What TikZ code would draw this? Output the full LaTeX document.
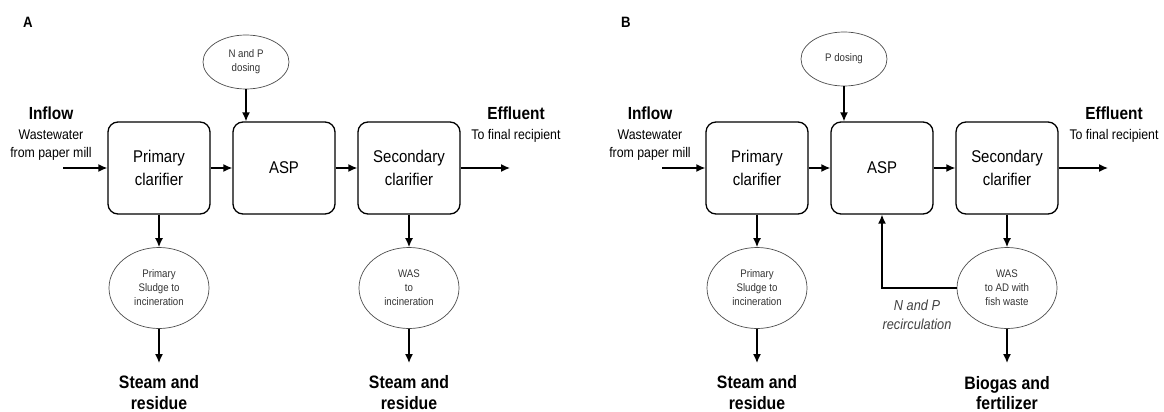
\documentclass[tikz,border=0pt]{standalone}
\usepackage{fontspec}
\setmainfont[FakeStretch=0.88]{Liberation Sans}
\usetikzlibrary{arrows.meta,shapes.geometric}
\begin{document}
\begin{tikzpicture}[x=1pt,y=-1pt,
  procbox/.style={draw,line width=1.3pt,rounded corners=10pt,minimum width=102pt,minimum height=92pt,inner sep=0pt,align=center,font=\fontsize{17}{23}\selectfont},
  smallell/.style={draw=black!70,line width=0.7pt,ellipse,minimum width=100pt,minimum height=81pt,inner sep=0pt,align=center,text=black!80,font=\fontsize{11}{14}\selectfont},
  doseell/.style={draw=black!70,line width=0.7pt,ellipse,minimum width=86pt,minimum height=54pt,inner sep=0pt,align=center,text=black!80,font=\fontsize{11}{14}\selectfont},
  arr/.style={line width=1.4pt,-{Latex[length=9pt,width=8pt]}},
  bigtxt/.style={anchor=base,inner sep=0pt,font=\bfseries\fontsize{17.5}{21}\selectfont},
  subtxt/.style={anchor=base,inner sep=0pt,font=\fontsize{14}{17}\selectfont},
  bottxt/.style={anchor=base,inner sep=0pt,align=center,font=\bfseries\fontsize{18}{21}\selectfont},
  paneltxt/.style={anchor=base,inner sep=0pt,font=\bfseries\fontsize{15}{18}\selectfont},
  recirctxt/.style={anchor=base,inner sep=0pt,text=black!75,font=\itshape\fontsize{14.5}{17}\selectfont}
]
\useasboundingbox (0,0) rectangle (1164,412);

% ---------------- Panel A ----------------
\node[paneltxt] (labA) at (28,28) {A};
\node[procbox] (pcA) at (159,168) {Primary\\clarifier};
\node[procbox] (aspA) at (284,168) {ASP};
\node[procbox] (scA) at (409,168) {Secondary\\clarifier};
\node[doseell] (dosA) at (246,62) {N and P\\dosing};
\node[smallell] (psA) at (159,288) {Primary\\Sludge to\\incineration};
\node[smallell] (wasA) at (409,288) {WAS\\to\\incineration};

\node[bigtxt] (inflA) at (51,119) {Inflow};
\node[subtxt] (ww1A) at (51,139) {Wastewater};
\node[subtxt] (ww2A) at (51,157) {from paper mill};
\node[bigtxt] (effA) at (516,119) {Effluent};
\node[subtxt] (finA) at (516,139) {To final recipient};

\coordinate (inA) at (63,168);
\coordinate (outA) at (510,168);
\draw[arr] (inA) -- (pcA.west);
\draw[arr] (pcA.east) -- (aspA.west);
\draw[arr] (aspA.east) -- (scA.west);
\draw[arr] (scA.east) -- (outA);
\draw[arr] (dosA.south) -- (dosA.south |- aspA.north);
\draw[arr] (pcA.south) -- (psA.north);
\draw[arr] (scA.south) -- (wasA.north);

\coordinate (endPsA) at (159,363);
\coordinate (endWasA) at (409,363);
\draw[arr] (psA.south) -- (endPsA);
\draw[arr] (wasA.south) -- (endWasA);
\node[bottxt] (steamA1) at (159,388) {Steam and};
\node[bottxt] (steamA2) at (159,409) {residue};
\node[bottxt] (steamB1) at (409,388) {Steam and};
\node[bottxt] (steamB2) at (409,409) {residue};

% ---------------- Panel B ----------------
\node[paneltxt] (labB) at (626,28) {B};
\node[procbox] (pcB) at (757,168) {Primary\\clarifier};
\node[procbox] (aspB) at (882,168) {ASP};
\node[procbox] (scB) at (1007,168) {Secondary\\clarifier};
\node[doseell] (dosB) at (844,59) {P dosing};
\node[smallell] (psB) at (757,288) {Primary\\Sludge to\\incineration};
\node[smallell] (wasB) at (1007,288) {WAS\\to AD with\\fish waste};

\node[bigtxt] (inflB) at (650,119) {Inflow};
\node[subtxt] (ww1B) at (650,139) {Wastewater};
\node[subtxt] (ww2B) at (650,157) {from paper mill};
\node[bigtxt] (effB) at (1114,119) {Effluent};
\node[subtxt] (finB) at (1114,139) {To final recipient};

\coordinate (inB) at (662,168);
\coordinate (outB) at (1108,168);
\draw[arr] (inB) -- (pcB.west);
\draw[arr] (pcB.east) -- (aspB.west);
\draw[arr] (aspB.east) -- (scB.west);
\draw[arr] (scB.east) -- (outB);
\draw[arr] (dosB.south) -- (dosB.south |- aspB.north);
\draw[arr] (pcB.south) -- (psB.north);
\draw[arr] (scB.south) -- (wasB.north);
\draw[arr] (wasB.west) -| (aspB.south);
\node[recirctxt] (rec1) at (917,310) {N and P};
\node[recirctxt] (rec2) at (917,329) {recirculation};

\coordinate (endPsB) at (757,363);
\coordinate (endWasB) at (1007,363);
\draw[arr] (psB.south) -- (endPsB);
\draw[arr] (wasB.south) -- (endWasB);
\node[bottxt] (steamC1) at (757,388) {Steam and};
\node[bottxt] (steamC2) at (757,409) {residue};
\node[bottxt] (bioB1) at (1007,389) {Biogas and};
\node[bottxt] (bioB2) at (1007,409) {fertilizer};
\end{tikzpicture}
\end{document}
